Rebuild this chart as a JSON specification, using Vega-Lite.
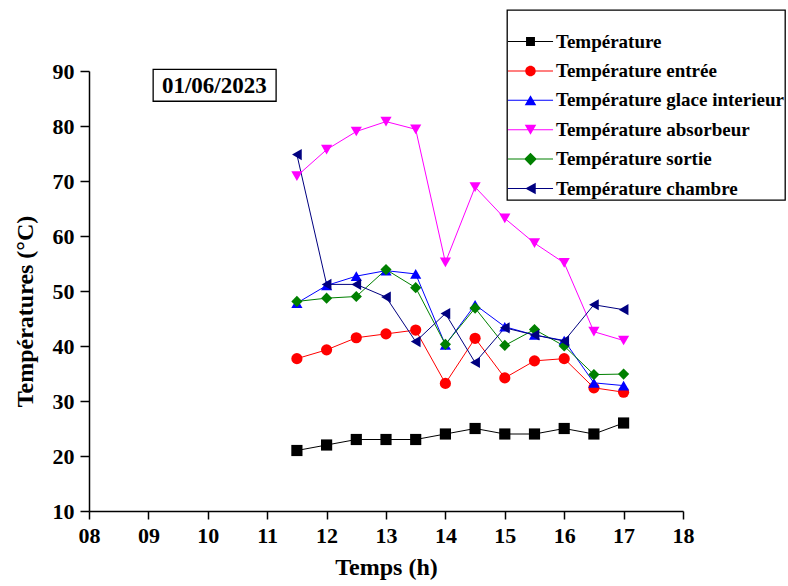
{
  "$schema": "https://vega.github.io/schema/vega-lite/v6.json",
  "width": 594,
  "height": 440,
  "autosize": {"type": "none"},
  "padding": {"left": 89, "top": 71, "right": 105, "bottom": 75},
  "background": "white",
  "config": {
    "view": {"stroke": null},
    "font": "Liberation Serif",
    "legend": {
      "orient": "none",
      "legendX": 418,
      "legendY": -61,
      "titleFontSize": 16,
      "titlePadding": 5,
      "padding": 1,
      "strokeColor": "black",
      "strokeWidth": 1.3,
      "labelFont": "Liberation Serif",
      "labelFontSize": 19,
      "labelFontWeight": "bold",
      "labelColor": "black",
      "labelLimit": 400,
      "symbolSize": 110,
      "symbolOffset": 13,
      "labelOffset": 16,
      "rowPadding": 9.4,
      "symbolStrokeWidth": 0,
      "symbolOpacity": 1
    }
  },
  "data": {
    "values": [
      {"heure": 11.5, "serie": "Température", "temp": 21},
      {"heure": 12, "serie": "Température", "temp": 22},
      {"heure": 12.5, "serie": "Température", "temp": 23},
      {"heure": 13, "serie": "Température", "temp": 23},
      {"heure": 13.5, "serie": "Température", "temp": 23},
      {"heure": 14, "serie": "Température", "temp": 24},
      {"heure": 14.5, "serie": "Température", "temp": 25},
      {"heure": 15, "serie": "Température", "temp": 24},
      {"heure": 15.5, "serie": "Température", "temp": 24},
      {"heure": 16, "serie": "Température", "temp": 25},
      {"heure": 16.5, "serie": "Température", "temp": 24},
      {"heure": 17, "serie": "Température", "temp": 26},
      {"heure": 11.5, "serie": "Température entrée", "temp": 37.7},
      {"heure": 12, "serie": "Température entrée", "temp": 39.3},
      {"heure": 12.5, "serie": "Température entrée", "temp": 41.5},
      {"heure": 13, "serie": "Température entrée", "temp": 42.2},
      {"heure": 13.5, "serie": "Température entrée", "temp": 42.9},
      {"heure": 14, "serie": "Température entrée", "temp": 33.2},
      {"heure": 14.5, "serie": "Température entrée", "temp": 41.4},
      {"heure": 15, "serie": "Température entrée", "temp": 34.2},
      {"heure": 15.5, "serie": "Température entrée", "temp": 37.3},
      {"heure": 16, "serie": "Température entrée", "temp": 37.7},
      {"heure": 16.5, "serie": "Température entrée", "temp": 32.4},
      {"heure": 17, "serie": "Température entrée", "temp": 31.6},
      {"heure": 11.5, "serie": "Température glace interieur", "temp": 47.8},
      {"heure": 12, "serie": "Température glace interieur", "temp": 51.0},
      {"heure": 12.5, "serie": "Température glace interieur", "temp": 52.7},
      {"heure": 13, "serie": "Température glace interieur", "temp": 53.7},
      {"heure": 13.5, "serie": "Température glace interieur", "temp": 53.1},
      {"heure": 14, "serie": "Température glace interieur", "temp": 40.2},
      {"heure": 14.5, "serie": "Température glace interieur", "temp": 47.5},
      {"heure": 15, "serie": "Température glace interieur", "temp": 43.5},
      {"heure": 15.5, "serie": "Température glace interieur", "temp": 42.0},
      {"heure": 16, "serie": "Température glace interieur", "temp": 41.0},
      {"heure": 16.5, "serie": "Température glace interieur", "temp": 33.3},
      {"heure": 17, "serie": "Température glace interieur", "temp": 32.8},
      {"heure": 11.5, "serie": "Température absorbeur", "temp": 70.9},
      {"heure": 12, "serie": "Température absorbeur", "temp": 75.7},
      {"heure": 12.5, "serie": "Température absorbeur", "temp": 79.0},
      {"heure": 13, "serie": "Température absorbeur", "temp": 80.8},
      {"heure": 13.5, "serie": "Température absorbeur", "temp": 79.4},
      {"heure": 14, "serie": "Température absorbeur", "temp": 55.2},
      {"heure": 14.5, "serie": "Température absorbeur", "temp": 68.9},
      {"heure": 15, "serie": "Température absorbeur", "temp": 63.2},
      {"heure": 15.5, "serie": "Température absorbeur", "temp": 58.7},
      {"heure": 16, "serie": "Température absorbeur", "temp": 55.1},
      {"heure": 16.5, "serie": "Température absorbeur", "temp": 42.6},
      {"heure": 17, "serie": "Température absorbeur", "temp": 41.0},
      {"heure": 11.5, "serie": "Température sortie", "temp": 48.1},
      {"heure": 12, "serie": "Température sortie", "temp": 48.7},
      {"heure": 12.5, "serie": "Température sortie", "temp": 49.0},
      {"heure": 13, "serie": "Température sortie", "temp": 53.9},
      {"heure": 13.5, "serie": "Température sortie", "temp": 50.6},
      {"heure": 14, "serie": "Température sortie", "temp": 40.3},
      {"heure": 14.5, "serie": "Température sortie", "temp": 46.9},
      {"heure": 15, "serie": "Température sortie", "temp": 40.1},
      {"heure": 15.5, "serie": "Température sortie", "temp": 43.0},
      {"heure": 16, "serie": "Température sortie", "temp": 40.0},
      {"heure": 16.5, "serie": "Température sortie", "temp": 34.8},
      {"heure": 17, "serie": "Température sortie", "temp": 34.9},
      {"heure": 11.5, "serie": "Température chambre", "temp": 74.8},
      {"heure": 12, "serie": "Température chambre", "temp": 51.2},
      {"heure": 12.5, "serie": "Température chambre", "temp": 51.2},
      {"heure": 13, "serie": "Température chambre", "temp": 48.9},
      {"heure": 13.5, "serie": "Température chambre", "temp": 40.8},
      {"heure": 14, "serie": "Température chambre", "temp": 45.9},
      {"heure": 14.5, "serie": "Température chambre", "temp": 37.0},
      {"heure": 15, "serie": "Température chambre", "temp": 43.3},
      {"heure": 15.5, "serie": "Température chambre", "temp": 42.0},
      {"heure": 16, "serie": "Température chambre", "temp": 40.9},
      {"heure": 16.5, "serie": "Température chambre", "temp": 47.5},
      {"heure": 17, "serie": "Température chambre", "temp": 46.6}
    ]
  },
  "layer": [
    {
      "data": {"values": [{"label": "01/06/2023"}]},
      "mark": {"type": "rect", "fill": null, "stroke": "black", "strokeWidth": 1.3},
      "encoding": {
        "x": {"datum": 9.08, "type": "quantitative"},
        "x2": {"datum": 11.15},
        "y": {"datum": 84.5, "type": "quantitative"},
        "y2": {"datum": 90.3}
      }
    },
    {
      "data": {"values": [{"label": "01/06/2023"}]},
      "mark": {"type": "text", "font": "Liberation Serif", "fontSize": 23, "fontWeight": "bold", "color": "black", "align": "center", "baseline": "middle"},
      "encoding": {
        "x": {"datum": 10.11, "type": "quantitative"},
        "y": {"datum": 87.3, "type": "quantitative"},
        "text": {"field": "label"}
      }
    },
    {
      "mark": {"type": "line", "strokeWidth": 1},
      "encoding": {
        "x": {
          "field": "heure",
          "type": "quantitative",
          "scale": {"domain": [8, 18], "nice": false, "zero": false},
          "axis": {
            "values": [8, 8.5, 9, 9.5, 10, 10.5, 11, 11.5, 12, 12.5, 13, 13.5, 14, 14.5, 15, 15.5, 16, 16.5, 17, 17.5, 18],
            "labelExpr": "datum.value % 1 === 0 ? (datum.value < 10 ? '0' + datum.value : '' + datum.value) : ''",
            "tickSize": {"condition": {"test": "datum.value % 1 !== 0", "value": 5}, "value": 8},
            "grid": false,
            "domainColor": "black",
            "domainWidth": 1.5,
            "tickColor": "black",
            "tickWidth": 1.5,
            "labelFont": "Liberation Serif",
            "labelFontSize": 22,
            "labelFontWeight": "bold",
            "labelColor": "black",
            "labelPadding": 6,
            "labelFlush": false,
            "labelOverlap": false,
            "title": "Temps (h)",
            "titleFont": "Liberation Serif",
            "titleFontSize": 24,
            "titleFontWeight": "bold",
            "titleColor": "black",
            "titlePadding": 9
          }
        },
        "y": {
          "field": "temp",
          "type": "quantitative",
          "scale": {"domain": [10, 90], "nice": false, "zero": false},
          "axis": {
            "values": [10, 15, 20, 25, 30, 35, 40, 45, 50, 55, 60, 65, 70, 75, 80, 85, 90],
            "labelExpr": "datum.value % 10 === 0 ? '' + datum.value : ''",
            "tickSize": {"condition": {"test": "datum.value % 10 !== 0", "value": 5}, "value": 9},
            "grid": false,
            "domainColor": "black",
            "domainWidth": 1.5,
            "tickColor": "black",
            "tickWidth": 1.5,
            "labelFont": "Liberation Serif",
            "labelFontSize": 22,
            "labelFontWeight": "bold",
            "labelColor": "black",
            "labelPadding": 6,
            "labelFlush": false,
            "labelOverlap": false,
            "title": "Températures (°C)",
            "titleFont": "Liberation Serif",
            "titleFontSize": 24,
            "titleFontWeight": "bold",
            "titleColor": "black",
            "titlePadding": 15,
            "titleY": 240
          }
        },
        "color": {
          "field": "serie",
          "type": "nominal",
          "scale": {
            "domain": ["Température", "Température entrée", "Température glace interieur", "Température absorbeur", "Température sortie", "Température chambre"],
            "range": ["#000000", "#ff0000", "#0000ff", "#ff00ff", "#008000", "#000080"]
          },
          "legend": null
        },
        "detail": {"field": "serie"}
      }
    },
    {
      "mark": {"type": "point", "filled": true, "size": 125, "opacity": 1, "strokeWidth": 0},
      "encoding": {
        "x": {"field": "heure", "type": "quantitative"},
        "y": {"field": "temp", "type": "quantitative"},
        "color": {
          "field": "serie",
          "type": "nominal",
          "scale": {
            "domain": ["Température", "Température entrée", "Température glace interieur", "Température absorbeur", "Température sortie", "Température chambre"],
            "range": ["#000000", "#ff0000", "#0000ff", "#ff00ff", "#008000", "#000080"]
          },
          "legend": null
        },
        "shape": {
          "field": "serie",
          "type": "nominal",
          "scale": {
            "domain": ["Température", "Température entrée", "Température glace interieur", "Température absorbeur", "Température sortie", "Température chambre"],
            "range": ["square", "circle", "triangle-up", "triangle-down", "diamond", "triangle-left"]
          },
          "legend": null
        }
      }
    },
    {
      "mark": {"type": "point", "filled": true, "opacity": 0},
      "encoding": {
        "x": {"field": "heure", "type": "quantitative"},
        "y": {"field": "temp", "type": "quantitative"},
        "color": {
          "field": "serie",
          "type": "nominal",
          "scale": {
            "domain": ["Température", "Température entrée", "Température glace interieur", "Température absorbeur", "Température sortie", "Température chambre"],
            "range": ["#000000", "#ff0000", "#0000ff", "#ff00ff", "#008000", "#000080"]
          },
          "legend": {"title": " "}
        },
        "shape": {
          "field": "serie",
          "type": "nominal",
          "scale": {
            "domain": ["Température", "Température entrée", "Température glace interieur", "Température absorbeur", "Température sortie", "Température chambre"],
            "range": [
              "M-4.3,-0.1H4.3V0.1H-4.3Z M-0.85,-0.85H0.85V0.85H-0.85Z",
              "M-4.3,-0.1H4.3V0.1H-4.3Z M-1,0A1,1,0,1,1,1,0A1,1,0,1,1,-1,0Z",
              "M-4.3,-0.1H4.3V0.1H-4.3Z M0,-0.95L1.1,0.95L-1.1,0.95Z",
              "M-4.3,-0.1H4.3V0.1H-4.3Z M0,0.95L-1.1,-0.95L1.1,-0.95Z",
              "M-4.3,-0.1H4.3V0.1H-4.3Z M-1.2,0L0,-1.2L1.2,0L0,1.2Z",
              "M-4.3,-0.1H4.3V0.1H-4.3Z M-1,0L1,-1.1L1,1.1Z"
            ]
          },
          "legend": {"title": " "}
        }
      }
    }
  ],
  "resolve": {"scale": {"shape": "independent", "color": "independent"}}
}
